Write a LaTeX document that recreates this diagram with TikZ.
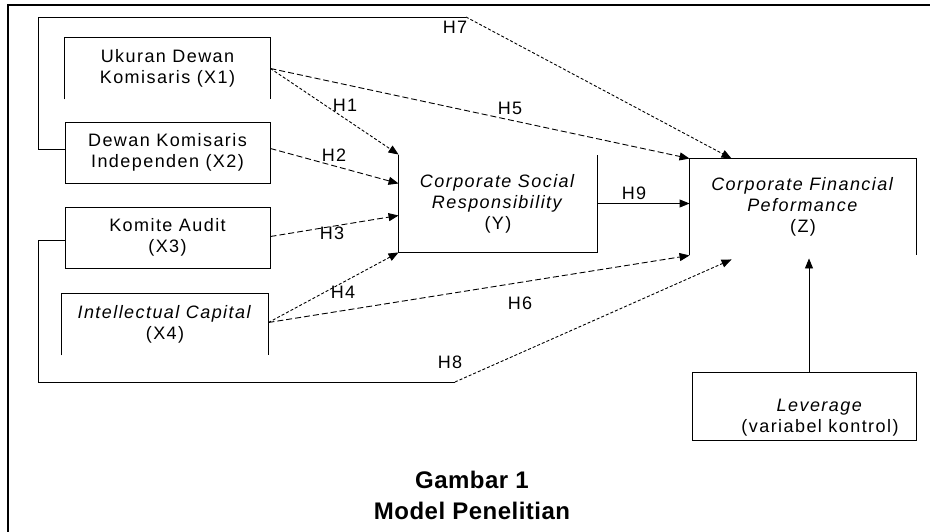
\documentclass[tikz,border=0pt]{standalone}
\usepackage{fontspec}
\setmainfont{Liberation Sans}
\newfontfamily\boxfont[LetterSpace=8]{Liberation Sans}
\newfontfamily\capfont[LetterSpace=2]{Liberation Sans}
\usetikzlibrary{arrows.meta}

\tikzset{
  txt/.style={inner sep=0pt, align=center, font={\boxfont\fontsize{18}{21}\selectfont}},
  var/.style={txt, minimum width=205pt, minimum height=61pt, line width=0.9pt},
  side/.style={line width=0.9pt},
  tip/.style={-{Triangle[length=10pt,width=8pt]}},
  longdash/.style={side, tip, dash pattern=on 6pt off 3pt},
  shortdash/.style={side, tip, dash pattern=on 3pt off 2pt},
  caption/.style={inner sep=0pt, font={\capfont\bfseries\fontsize{24}{26}\selectfont}},
}

\begin{document}
\begin{tikzpicture}[x=1pt,y=-1pt]
  \useasboundingbox (0,0) rectangle (930,532);
  % frame of the page
  \draw[line width=2.5pt] (8,532) -- (8,5) -- (930,5);

  % independent variables
  \node[var] (x1) at (167.5,68.5) {Ukuran Dewan\\Komisaris (X1)};
  \draw[side] (x1.south west) |- (x1.north east) -- (x1.south east);
  \node[var,draw] (x2) at (167.5,152.5) {Dewan Komisaris\\Independen (X2)};
  \node[var,draw] (x3) at (167.5,237.5) {Komite Audit\\(X3)};
  \node[var,minimum width=206pt] (x4) at (165,324.5) {\textit{Intellectual Capital}\\(X4)};
  \draw[side] (x4.south west) |- (x4.north east) -- (x4.south east);

  % mediating and dependent variables
  \node[var,minimum width=198pt,minimum height=97pt] (y) at (498,203.5)
    {\textit{Corporate Social}\\\textit{Responsibility}\\(Y)};
  \draw[side] (y.north west) |- (y.south east) -- (y.north east);
  \node[var,minimum width=226pt,minimum height=96pt] (z) at (803,207)
    {\textit{Corporate Financial}\\\textit{Peformance}\\(Z)};
  \draw[side] (z.south west) |- (z.north east) -- (z.south east);

  % control variable
  \node[draw,side,minimum width=224pt,minimum height=68pt] (lev) at (804,406) {};
  \node[txt] (levtxt) at (820,418) {\textit{Leverage}\\(variabel kontrol)};

  % bends of H7 and H8
  \coordinate (h7) at (466,17);
  \coordinate (h8) at (455,382);

  % hypotheses
  \draw[shortdash] (x1.east) -- (y.north west);
  \draw[longdash] (x1.east) -- (z.north west);
  \draw[longdash] ([yshift=4pt]x2.east) -- ([yshift=20pt]y.west);
  \draw[longdash] ([yshift=1pt]x3.east) -- ([yshift=-12pt]y.west);
  \draw[shortdash] ([yshift=2pt]x4.east) -- (y.south west);
  \draw[longdash] ([yshift=2pt]x4.east) -- (z.south west);
  \draw[side] ([yshift=3pt]x2.west) -| (38,17) -- (h7);
  \draw[shortdash] (h7) -- ([xshift=42pt]z.north west);
  \draw[side] ([yshift=-3pt]x3.west) -| (38,382) -- (h8);
  \draw[shortdash] (h8) -- ([xshift=42pt,yshift=-4pt]z.south west);
  \draw[side,tip] (y.east) -- (y.east -| z.west);
  \draw[side,tip] ([xshift=5pt]lev.north) -- ([xshift=6pt,yshift=-3pt]z.south);

  \node[txt] (lh1) at (345,105) {H1};
  \node[txt] (lh2) at (334,155) {H2};
  \node[txt] (lh3) at (332,233) {H3};
  \node[txt] (lh4) at (343,292) {H4};
  \node[txt] (lh5) at (510,108) {H5};
  \node[txt] (lh6) at (520,303) {H6};
  \node[txt] (lh7) at (455,27) {H7};
  \node[txt] (lh8) at (450,362) {H8};
  \node[txt] (lh9) at (634,193) {H9};

  % caption
  \node[caption] (cap1) at (472,480) {Gambar 1};
  \node[caption] (cap2) at (472,511) {Model Penelitian};
\end{tikzpicture}
\end{document}
